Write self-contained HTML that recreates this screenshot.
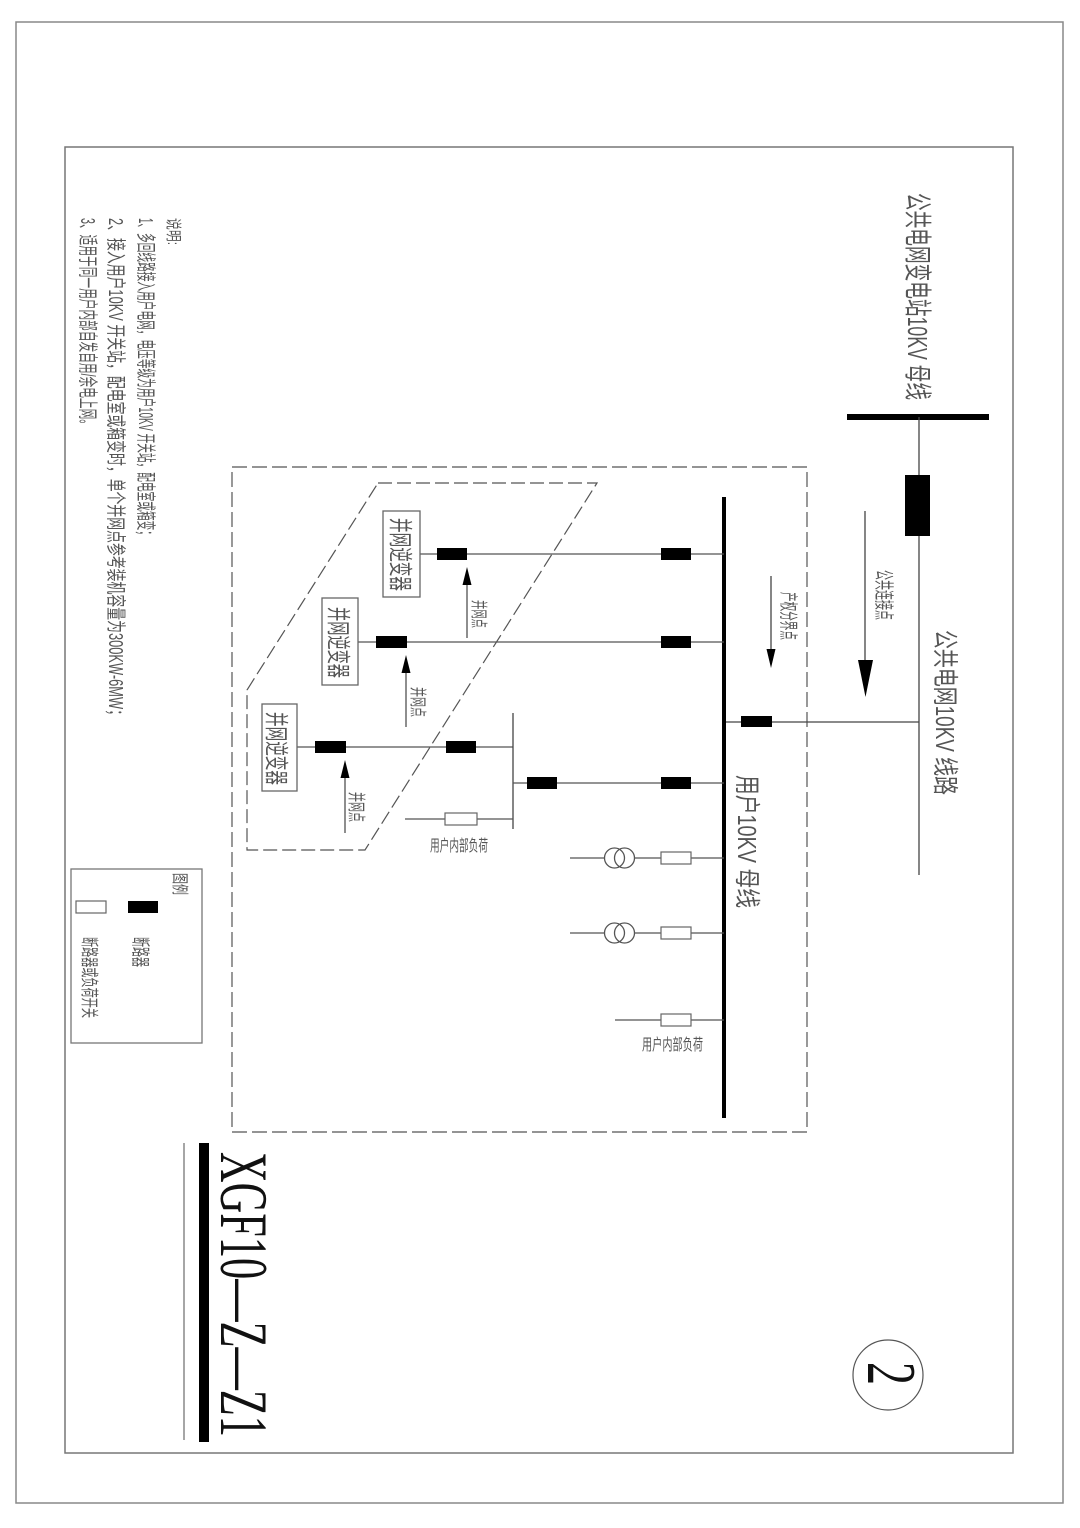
<!DOCTYPE html>
<html><head><meta charset="utf-8">
<style>
html,body{margin:0;padding:0;background:#fff;}
svg{display:block;}
.t{font-family:"Liberation Sans","Noto Sans CJK SC",sans-serif;fill:#555;}
</style></head>
<body>
<svg width="1080" height="1528" viewBox="0 0 1080 1528" xmlns="http://www.w3.org/2000/svg">
<rect x="0" y="0" width="1080" height="1528" fill="#fff"/>
<!-- borders -->
<rect x="16" y="22" width="1047" height="1481" fill="none" stroke="#888" stroke-width="1.5"/>
<rect x="65" y="147" width="948" height="1306" fill="none" stroke="#777" stroke-width="1.5"/>

<!-- dashed outer box -->
<rect x="232" y="467" width="575" height="665" fill="none" stroke="#555" stroke-width="1.2" stroke-dasharray="15,5"/>
<!-- dashed parallelogram -->
<polygon points="378,483 597,483 365,850 247,850 247,690" fill="none" stroke="#555" stroke-width="1.2" stroke-dasharray="14,5"/>

<!-- public side -->
<line x1="847" y1="417" x2="989" y2="417" stroke="#000" stroke-width="6"/>
<line x1="919" y1="417" x2="919" y2="875" stroke="#444" stroke-width="1.3"/>
<rect x="905" y="475" width="25" height="61" fill="#000"/>
<line x1="865" y1="511" x2="865" y2="665" stroke="#444" stroke-width="1.3"/>
<polygon points="858,660 873,660 865.5,697" fill="#000"/>
<line x1="724" y1="722" x2="919" y2="722" stroke="#444" stroke-width="1.3"/>
<rect x="741" y="716" width="31" height="11" fill="#000"/>

<!-- user bus -->
<line x1="724" y1="497" x2="724" y2="1118" stroke="#000" stroke-width="4"/>
<line x1="771" y1="576" x2="771" y2="652" stroke="#444" stroke-width="1.3"/>
<polygon points="766.5,649 775.5,649 771,668" fill="#000"/>

<!-- branch 1 -->
<line x1="420" y1="554" x2="724" y2="554" stroke="#555" stroke-width="1.3"/>
<rect x="437" y="548" width="30" height="12" fill="#000"/>
<rect x="661" y="548" width="30" height="12" fill="#000"/>
<rect x="383" y="511" width="37" height="86" fill="#fff" stroke="#666" stroke-width="1.3"/>
<line x1="467" y1="580" x2="467" y2="638" stroke="#444" stroke-width="1.2"/>
<polygon points="462.5,585 471.5,585 467,567" fill="#000"/>

<!-- branch 2 -->
<line x1="358" y1="642" x2="724" y2="642" stroke="#555" stroke-width="1.3"/>
<rect x="376" y="636" width="31" height="12" fill="#000"/>
<rect x="661" y="636" width="30" height="12" fill="#000"/>
<rect x="322" y="598" width="36" height="87" fill="#fff" stroke="#666" stroke-width="1.3"/>
<line x1="406" y1="668" x2="406" y2="727" stroke="#444" stroke-width="1.2"/>
<polygon points="401.5,673 410.5,673 406,655" fill="#000"/>

<!-- branch 3 -->
<line x1="297" y1="747" x2="513" y2="747" stroke="#555" stroke-width="1.3"/>
<rect x="315" y="741" width="31" height="12" fill="#000"/>
<rect x="446" y="741" width="30" height="12" fill="#000"/>
<rect x="262" y="704" width="35" height="87" fill="#fff" stroke="#666" stroke-width="1.3"/>
<line x1="345" y1="773" x2="345" y2="833" stroke="#444" stroke-width="1.2"/>
<polygon points="340.5,778 349.5,778 345,760" fill="#000"/>
<line x1="513" y1="713" x2="513" y2="829" stroke="#444" stroke-width="1.3"/>
<line x1="513" y1="783" x2="724" y2="783" stroke="#555" stroke-width="1.3"/>
<rect x="527" y="777" width="30" height="12" fill="#000"/>
<rect x="661" y="777" width="30" height="12" fill="#000"/>
<line x1="405" y1="819" x2="513" y2="819" stroke="#555" stroke-width="1.3"/>
<rect x="445" y="813" width="32" height="12" fill="#fff" stroke="#666" stroke-width="1.2"/>

<!-- transformer branches -->
<g stroke="#555" stroke-width="1.3" fill="none">
<line x1="570" y1="858" x2="604" y2="858"/>
<line x1="635" y1="858" x2="661" y2="858"/>
<line x1="691" y1="858" x2="724" y2="858"/>
<circle cx="614.5" cy="858" r="10"/>
<circle cx="624.5" cy="858" r="10"/>
<line x1="570" y1="933" x2="604" y2="933"/>
<line x1="635" y1="933" x2="661" y2="933"/>
<line x1="691" y1="933" x2="724" y2="933"/>
<circle cx="614.5" cy="933" r="10"/>
<circle cx="624.5" cy="933" r="10"/>
<line x1="615" y1="1020" x2="661" y2="1020"/>
<line x1="691" y1="1020" x2="724" y2="1020"/>
</g>
<rect x="661" y="852" width="30" height="12" fill="#fff" stroke="#666" stroke-width="1.2"/>
<rect x="661" y="927" width="30" height="12" fill="#fff" stroke="#666" stroke-width="1.2"/>
<rect x="661" y="1014" width="30" height="12" fill="#fff" stroke="#666" stroke-width="1.2"/>

<!-- legend -->
<rect x="71" y="869" width="131" height="174" fill="none" stroke="#777" stroke-width="1.3"/>
<rect x="128" y="901" width="30" height="12" fill="#000"/>
<rect x="76" y="901" width="30" height="12" fill="#fff" stroke="#666" stroke-width="1.2"/>

<!-- title block -->
<rect x="199" y="1143" width="10" height="299" fill="#000"/>
<line x1="184" y1="1143" x2="184" y2="1440" stroke="#777" stroke-width="1.3"/>
<circle cx="888" cy="1375" r="35" fill="none" stroke="#555" stroke-width="1.2"/>

<!-- rotated texts -->
<text class="t" transform="translate(908,193) rotate(90)" font-size="28" textLength="207" lengthAdjust="spacingAndGlyphs">公共电网变电站10KV 母线</text>
<text class="t" transform="translate(936,630) rotate(90)" font-size="26" textLength="165" lengthAdjust="spacingAndGlyphs">公共电网10KV 线路</text>
<text class="t" transform="translate(877,570) rotate(90)" font-size="20" textLength="50" lengthAdjust="spacingAndGlyphs">公共连接点</text>
<text class="t" transform="translate(782,592) rotate(90)" font-size="19" textLength="48" lengthAdjust="spacingAndGlyphs">产权分界点</text>
<text class="t" transform="translate(738,775) rotate(90)" font-size="26" textLength="133" lengthAdjust="spacingAndGlyphs">用户10KV 母线</text>

<text class="t" transform="translate(392,518) rotate(90)" font-size="24" textLength="73" lengthAdjust="spacingAndGlyphs">并网逆变器</text>
<text class="t" transform="translate(330,607) rotate(90)" font-size="24" textLength="71" lengthAdjust="spacingAndGlyphs">并网逆变器</text>
<text class="t" transform="translate(268,712) rotate(90)" font-size="24" textLength="73" lengthAdjust="spacingAndGlyphs">并网逆变器</text>

<text class="t" transform="translate(473,600) rotate(90)" font-size="17" textLength="28" lengthAdjust="spacingAndGlyphs">并网点</text>
<text class="t" transform="translate(412,687) rotate(90)" font-size="17" textLength="30" lengthAdjust="spacingAndGlyphs">并网点</text>
<text class="t" transform="translate(350,792) rotate(90)" font-size="18" textLength="30" lengthAdjust="spacingAndGlyphs">并网点</text>

<text class="t" x="430" y="851" font-size="16" textLength="58" lengthAdjust="spacingAndGlyphs">用户内部负荷</text>
<text class="t" x="642" y="1050" font-size="16" textLength="61" lengthAdjust="spacingAndGlyphs">用户内部负荷</text>

<!-- notes -->
<text class="t" transform="translate(168,218) rotate(90)" font-size="16" textLength="27" lengthAdjust="spacingAndGlyphs">说明:</text>
<text class="t" transform="translate(139,218) rotate(90)" font-size="20" textLength="322" lengthAdjust="spacingAndGlyphs">1、多回线路接入用户电网，电压等级为用户10KV 开关站，配电室或箱变；</text>
<text class="t" transform="translate(109,218) rotate(90)" font-size="20" textLength="504" lengthAdjust="spacingAndGlyphs">2、接入用户10KV 开关站，配电室或箱变时，单个并网点参考装机容量为300KW-6MW；</text>
<text class="t" transform="translate(81,218) rotate(90)" font-size="20" textLength="212" lengthAdjust="spacingAndGlyphs">3、适用于同一用户内部自发自用/余电上网。</text>

<!-- legend text -->
<text class="t" transform="translate(174,873) rotate(90)" font-size="17" textLength="22" lengthAdjust="spacingAndGlyphs">图例</text>
<text class="t" transform="translate(134,937) rotate(90)" font-size="19" textLength="30" lengthAdjust="spacingAndGlyphs">断路器</text>
<text class="t" transform="translate(83,937) rotate(90)" font-size="18" textLength="81" lengthAdjust="spacingAndGlyphs">断路器或负荷开关</text>

<!-- title -->
<text transform="translate(221,1152) rotate(90)" font-family="'Liberation Serif',serif" font-size="68" fill="#111" textLength="285" lengthAdjust="spacingAndGlyphs">XGF10—Z—Z1</text>
<text transform="translate(868,1362) rotate(90)" font-family="'Liberation Serif',serif" font-size="70" fill="#111" textLength="23" lengthAdjust="spacingAndGlyphs">2</text>
</svg>
</body></html>
